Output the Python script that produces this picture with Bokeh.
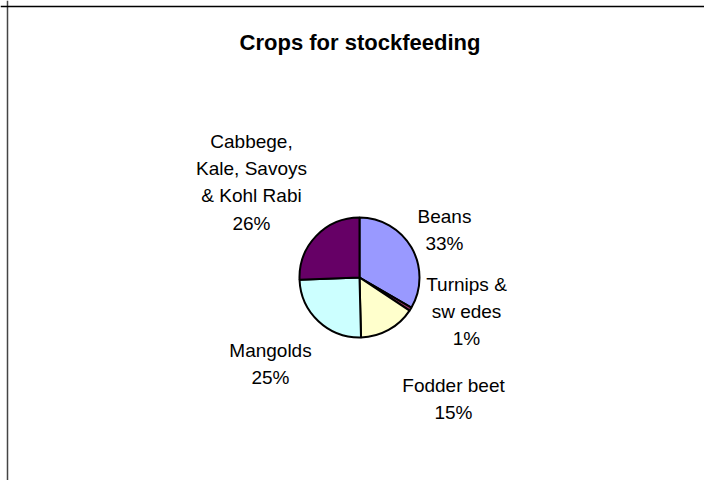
import math
from bokeh.plotting import figure
from bokeh.models import ColumnDataSource, Range1d, Span
from bokeh.core.properties import value
from bokeh.embed import file_html
from bokeh.resources import INLINE

# ---- data ----
title = "Crops for stockfeeding"
crops = ["Beans", "Turnips &\nsw edes", "Fodder beet", "Mangolds",
         "Cabbege,\nKale, Savoys\n& Kohl Rabi"]
shares = [33.4, 0.9, 15.3, 24.8, 25.6]
colors = ["#9999FF", "#993366", "#FFFFCC", "#CCFFFF", "#660066"]

# ---- layout (picture pixels) ----
W, H = 704, 480
PIE_CX, PIE_CY, PIE_R = 359, 277, 60
# label centre x and first baseline y (picture pixels)
label_pos = [(444, 216), (466, 284), (453, 385), (270, 350), (251, 141)]
LINE_STEP = 27.2
FONT = "Liberation Sans"


def dx(px):
    return px


def dy(py):
    return H - py


p = figure(width=W, height=H, output_backend="svg", toolbar_location=None,
           x_range=Range1d(0, W), y_range=Range1d(0, H), min_border=0)
p.axis.visible = False
p.grid.visible = False
p.outline_line_color = None
p.background_fill_color = "white"
p.border_fill_color = "white"

# wedges (clockwise from 12 o'clock)
total = sum(shares)
starts, ends = [], []
cum = 0.0
for s in shares:
    a_start = math.pi / 2 - 2 * math.pi * cum / total
    cum += s
    a_end = math.pi / 2 - 2 * math.pi * cum / total
    starts.append(a_end)
    ends.append(a_start)

src = ColumnDataSource(dict(start=starts, end=ends, color=colors))
p.wedge(x=dx(PIE_CX), y=dy(PIE_CY), radius=PIE_R, start_angle="start",
        end_angle="end", direction="anticlock", fill_color="color",
        line_color="black", line_width=2, source=src)

# labels
xs, ys, texts = [], [], []
for name, s, (cx, by) in zip(crops, shares, label_pos):
    lines = name.split("\n") + [f"{round(100 * s / total)}%"]
    for i, ln in enumerate(lines):
        xs.append(dx(cx))
        ys.append(dy(by + i * LINE_STEP))
        texts.append(ln)
p.text(x=xs, y=ys, text=texts, text_font=value(FONT), text_font_size="19px",
       text_align="center", text_baseline="alphabetic", text_color="black")

# title
p.text(x=[dx(359.5)], y=[dy(42)], text=[title], text_font=value(FONT),
       text_font_size="22px", text_font_style="bold", text_align="center",
       text_baseline="alphabetic", text_color="black")

# chart-area border (left and top edges visible)
p.add_layout(Span(location=dx(7), dimension="height", line_color="#444444",
                  line_width=1.5))
p.add_layout(Span(location=dy(6), dimension="width", line_color="black",
                  line_width=1.5))

open("out.html", "w").write(file_html(p, INLINE))
